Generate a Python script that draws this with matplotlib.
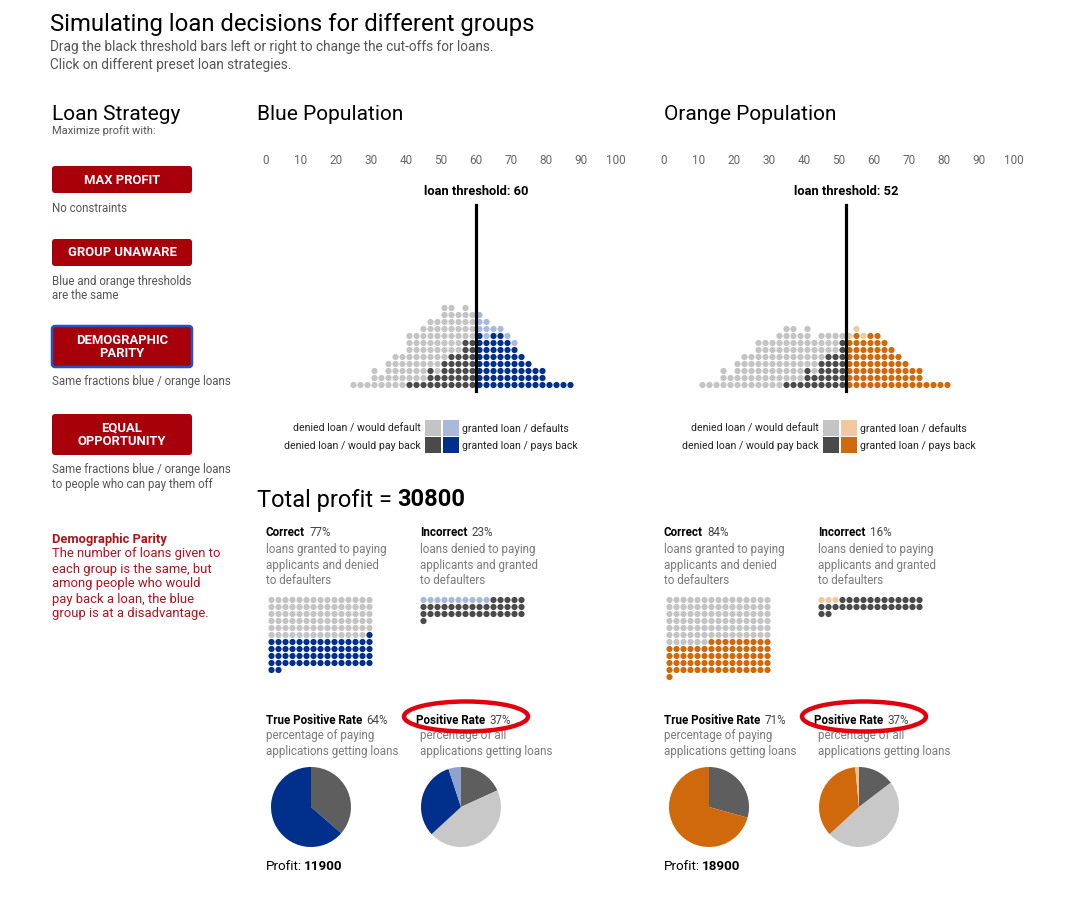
import matplotlib
matplotlib.use("Agg")
import matplotlib.pyplot as plt
from matplotlib.patches import FancyBboxPatch, Ellipse, Rectangle

plt.rcParams['font.family'] = ['Roboto', 'DejaVu Sans']

W, H = 1077, 911

# ---- data: credit score columns (bins of 2) and how many people in each ----
blue_scores = [25, 27, 29, 31, 33, 35, 37, 39, 41, 43, 45, 47, 49, 51, 53, 55,
               57, 59, 61, 63, 65, 67, 69, 71, 73, 75, 77, 79, 81, 83, 85, 87]
blue_pay = [0, 0, 0, 0, 0, 0, 0, 0, 1, 1, 1, 3, 2, 4, 5, 5,
            7, 7, 8, 7, 8, 8, 7, 6, 5, 4, 3, 3, 1, 1, 1, 1]
blue_default = [1, 1, 1, 3, 2, 4, 5, 5, 7, 7, 8, 7, 8, 8, 7, 6,
                5, 4, 3, 3, 1, 1, 1, 1, 0, 0, 0, 0, 0, 0, 0, 0]
blue_threshold = 60

orange_scores = [11, 13, 15, 17, 19, 21, 23, 25, 27, 29, 31, 33, 35, 37, 39, 41, 43, 45,
                 47, 49, 51, 53, 55, 57, 59, 61, 63, 65, 67, 69, 71, 73, 75, 77, 79, 81]
orange_pay = [0, 0, 0, 0, 0, 0, 0, 0, 0, 0, 0, 0, 1, 1, 1, 3, 2, 4,
              5, 5, 7, 7, 8, 7, 8, 8, 7, 6, 5, 4, 3, 3, 1, 1, 1, 1]
orange_default = [1, 1, 1, 3, 2, 4, 5, 5, 7, 7, 7, 8, 8, 8, 7, 6, 5, 4,
                  3, 3, 1, 1, 1, 1, 0, 0, 0, 0, 0, 0, 0, 0, 0, 0, 0, 0]
orange_threshold = 52

gain_paid, loss_default = 300, 700
tick_values = [0, 10, 20, 30, 40, 50, 60, 70, 80, 90, 100]

strategies = ["MAX PROFIT", "GROUP UNAWARE", "DEMOGRAPHIC\nPARITY", "EQUAL\nOPPORTUNITY"]
strategy_notes = [["No constraints"],
                  ["Blue and orange thresholds", "are the same"],
                  ["Same fractions blue / orange loans"],
                  ["Same fractions blue / orange loans", "to people who can pay them off"]]
explain_title = "Demographic Parity"
explain_lines = ["The number of loans given to", "each group is the same, but",
                 "among people who would", "pay back a loan, the blue",
                 "group is at a disadvantage."]

LIGHT_GRAY = '#c4c4c4'
DARK_GRAY = '#4a4a4a'
PIE_DARK = '#5e5e5e'
PIE_LIGHT = '#c8c8c8'
BLUE = '#00308c'
LIGHT_BLUE = '#a9b9dc'
PIE_LIGHT_BLUE = '#8da2cf'
ORANGE = '#d0690c'
LIGHT_ORANGE = '#f1c8a0'
PIE_LIGHT_ORANGE = '#f0c090'
RED = '#a8000a'
TEXT_GRAY = '#555555'
DY = 2  # text centre sits a little lower than matplotlib's 'center'

fig = plt.figure(figsize=(W / 100, H / 100), dpi=100)
bg = fig.add_axes([0, 0, 1, 1])
bg.set_xlim(0, W)
bg.set_ylim(H, 0)
bg.axis('off')


def px_axes(left, top, width, height):
    return fig.add_axes([left / W, 1 - (top + height) / H, width / W, height / H])


def txt(x, y, s, size, **kw):
    kw.setdefault('va', 'center')
    return bg.text(x, y + DY, s, fontsize=size, **kw)


def bold_then(x, y, first, second, size, first_kw=None, second_kw=None, gap=3):
    t = txt(x, y, first, size, **(first_kw or {}))
    bg.annotate(second, xy=(1, 0.5), xycoords=t, xytext=(gap, 0),
                textcoords='offset points', va='center', fontsize=size,
                **(second_kw or {}))


# ---- header ----
txt(50, 22, "Simulating loan decisions for different groups", 17.2)
txt(50, 45, "Drag the black threshold bars left or right to change the cut-offs for loans.",
    9.8, color=TEXT_GRAY)
txt(50, 63, "Click on different preset loan strategies.", 9.8, color=TEXT_GRAY)

# ---- left panel ----
txt(52, 112, "Loan Strategy", 15)
txt(52, 129, "Maximize profit with:", 8, color=TEXT_GRAY)
button_tops = [166, 239, 326, 414]
button_heights = [27, 27, 41, 41]
for i, (name, notes) in enumerate(zip(strategies, strategy_notes)):
    top, hgt = button_tops[i], button_heights[i]
    active = name.startswith("DEMOGRAPHIC")
    box = FancyBboxPatch((52, top), 140, hgt, boxstyle='round,pad=0,rounding_size=3',
                         facecolor=RED, edgecolor='#1d55c8' if active else RED,
                         linewidth=1.8 if active else 0)
    bg.add_patch(box)
    txt(122, top + hgt / 2 - 1.5, name, 9.4, color='white', ha='center',
        fontweight='bold', linespacing=1.05)
    for j, line in enumerate(notes):
        txt(52, top + hgt + 13 + 14.5 * j, line, 8.3, color=TEXT_GRAY)

txt(52, 537, explain_title, 9.3, color='#b3121c', fontweight='bold')
for j, line in enumerate(explain_lines):
    txt(52, 552 + 15 * j, line, 9.4, color='#b3121c')


# ---- one population ----
def draw_population(x0, name_x, name, scores, pay, default, thr, hi, lo, pie_lo):
    txt(name_x, 112, name, 15)

    ax = px_axes(x0, 168, 350, 227)
    ax.set_xlim(0, 100)
    ax.set_ylim(-10 / 7, -10 / 7 + 227 / 7)
    xs, ys, cs = [], [], []
    for s, p, d in zip(scores, pay, default):
        granted = s >= thr
        for k in range(p):
            xs.append(s); ys.append(k); cs.append(hi if granted else DARK_GRAY)
        for k in range(d):
            xs.append(s); ys.append(p + k); cs.append(lo if granted else LIGHT_GRAY)
    ax.scatter(xs, ys, s=20, c=cs, linewidths=0, zorder=2)
    ax.plot([thr, thr], [-0.86, 25.7], color='black', lw=2.3, zorder=3)
    ax.text(thr, 27.6, f"loan threshold: {thr}", ha='center', va='center',
            fontweight='bold', fontsize=9.3)
    ax.set_xticks(tick_values)
    ax.xaxis.tick_top()
    ax.tick_params(axis='x', length=0, pad=1, labelsize=8.5, labelcolor='#666666')
    ax.set_yticks([])
    for sp in ax.spines.values():
        sp.set_visible(False)
    ax.patch.set_alpha(0)

    # legend
    sq = x0 + 159
    legend = [("denied loan / would default", LIGHT_GRAY, "granted loan / defaults", lo),
              ("denied loan / would pay back", DARK_GRAY, "granted loan / pays back", hi)]
    for r, (ltxt, lcol, rtxt, rcol) in enumerate(legend):
        top = 420 + 17 * r
        bg.add_patch(Rectangle((sq, top), 16, 16, facecolor=lcol, edgecolor='none'))
        bg.add_patch(Rectangle((sq + 18, top), 16, 16, facecolor=rcol, edgecolor='none'))
        txt(sq - 4, top + 7, ltxt, 7.6, ha='right', color='#222222')
        txt(sq + 37, top + 7, rtxt, 7.6, ha='left', color='#222222')

    # totals
    denied_pay = sum(p for s, p in zip(scores, pay) if s < thr)
    denied_def = sum(d for s, d in zip(scores, default) if s < thr)
    granted_pay = sum(p for s, p in zip(scores, pay) if s >= thr)
    granted_def = sum(d for s, d in zip(scores, default) if s >= thr)
    total = denied_pay + denied_def + granted_pay + granted_def
    correct = denied_def + granted_pay
    tpr = granted_pay / (granted_pay + denied_pay)
    pos_rate = (granted_pay + granted_def) / total

    hdr = dict(fontweight='bold', color='black')
    sub = dict(color='#444444')
    gray = dict(color='#7a7a7a')
    bold_then(x0, 531, "Correct", f"{round(100 * correct / total)}%", 8.4, hdr, sub)
    bold_then(x0 + 154, 531, "Incorrect", f"{100 - round(100 * correct / total)}%", 8.4, hdr, sub)
    for j, line in enumerate(["loans granted to paying", "applicants and denied", "to defaulters"]):
        txt(x0, 547 + 16 * j, line, 8.4, **gray)
    for j, line in enumerate(["loans denied to paying", "applicants and granted", "to defaulters"]):
        txt(x0 + 154, 547 + 16 * j, line, 8.4, **gray)

    # dot grids, 15 per row
    def grid(gx, groups):
        xs, ys, cs = [], [], []
        i = 0
        for n, col in groups:
            for _ in range(n):
                xs.append(gx + 7 * (i % 15)); ys.append(600 + 7 * (i // 15)); cs.append(col)
                i += 1
        bg.scatter(xs, ys, s=20, c=cs, linewidths=0)
    grid(x0 + 5.5, [(denied_def, LIGHT_GRAY), (granted_pay, hi)])
    grid(x0 + 157.5, [(granted_def, lo), (denied_pay, DARK_GRAY)])

    # rates
    bold_then(x0, 718, "True Positive Rate", f"{round(100 * tpr)}%", 8.4, hdr, sub)
    bold_then(x0 + 150.5, 718, "Positive Rate", f"{round(100 * pos_rate)}%", 8.4, hdr, sub)
    for j, line in enumerate(["percentage of paying", "applications getting loans"]):
        txt(x0, 734 + 16 * j, line, 8.4, **gray)
    for j, line in enumerate(["percentage of all", "applications getting loans"]):
        txt(x0 + 154.5, 734 + 16 * j, line, 8.4, **gray)
    bg.add_patch(Ellipse((x0 + 200, 716.5), 124, 30, facecolor='none',
                         edgecolor='#e0000e', linewidth=3.2, zorder=5))

    pa = px_axes(x0 + 5, 767, 80, 80)
    pa.pie([denied_pay, granted_pay], colors=[PIE_DARK, hi], startangle=90,
           counterclock=False, radius=1)
    pa.set_xlim(-1, 1); pa.set_ylim(-1, 1)
    pb = px_axes(x0 + 155, 767, 80, 80)
    pb.pie([denied_pay, denied_def, granted_pay, granted_def],
           colors=[PIE_DARK, PIE_LIGHT, hi, pie_lo], startangle=90,
           counterclock=False, radius=1)
    pb.set_xlim(-1, 1); pb.set_ylim(-1, 1)

    profit = gain_paid * granted_pay - loss_default * granted_def
    bold_then(x0, 864, "Profit:", f"{profit}", 9.6, None, dict(fontweight='bold'), gap=1.5)
    return profit


p_blue = draw_population(266, 257, "Blue Population", blue_scores, blue_pay, blue_default,
                         blue_threshold, BLUE, LIGHT_BLUE, PIE_LIGHT_BLUE)
p_orange = draw_population(664, 664, "Orange Population", orange_scores, orange_pay,
                           orange_default, orange_threshold, ORANGE, LIGHT_ORANGE,
                           PIE_LIGHT_ORANGE)

bold_then(257, 498, "Total profit =", f"{p_blue + p_orange}", 17, None,
          dict(fontweight='bold'), gap=4)

fig.savefig("out.png", dpi=100)
